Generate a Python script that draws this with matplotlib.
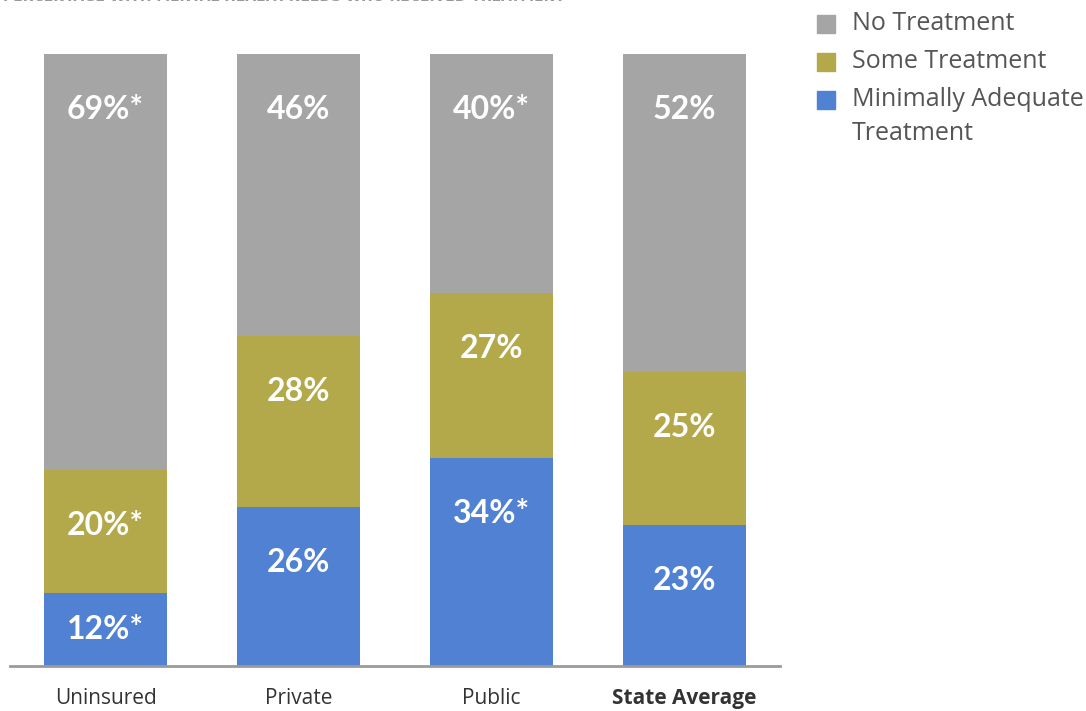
import matplotlib.pyplot as plt
from matplotlib.patches import Rectangle

# values per insurance group, bottom to top of each stack
groups = ["Uninsured", "Private", "Public", "State Average"]
minimal = [12, 26, 34, 23]
some = [20, 28, 27, 25]
none_ = [69, 46, 40, 52]
minimal_lbl = ["12%*", "26%", "34%*", "23%"]
some_lbl = ["20%*", "28%", "27%", "25%"]
none_lbl = ["69%*", "46%", "40%*", "52%"]
legend_lbl = ["No Treatment", "Some Treatment", "Minimally Adequate", "Treatment"]

c_grey = "#a5a5a5"
c_olive = "#b3a84a"
c_blue = "#5181d2"

W, H = 1086, 711
fig = plt.figure(figsize=(W / 100, H / 100), dpi=100)
ax = fig.add_axes([10 / W, 45 / H, 770 / W, 612 / H])

x = range(len(groups))
w = 0.637
b1 = minimal
b2 = [a + b for a, b in zip(minimal, some)]
ax.bar(x, minimal, w, color=c_blue, zorder=2)
ax.bar(x, some, w, bottom=b1, color=c_olive, zorder=2)
ax.bar(x, none_, w, bottom=b2, color=c_grey, zorder=2)

ax.set_xlim(-0.495, 3.495)
ax.set_ylim(0, 100)

lab_font = dict(color="white", fontsize=23, fontweight="bold", family="Lato",
                ha="center", va="center", zorder=3)
for i in x:
    segs = [(0, minimal[i], minimal_lbl[i]),
            (b1[i], some[i], some_lbl[i]),
            (b2[i], none_[i], none_lbl[i])]
    for base, h, txt in segs:
        top = min(base + h, 100)
        ax.text(i, top - min(9.1, h / 2), txt, **lab_font)

for s in ["top", "right", "left"]:
    ax.spines[s].set_visible(False)
ax.spines["bottom"].set_color("#9a9a9a")
ax.spines["bottom"].set_linewidth(2)
ax.set_yticks([])
ax.set_xticks(list(x))
ax.set_xticklabels(groups, fontsize=15, color="#333333", family="Open Sans")
ax.tick_params(axis="x", length=0, pad=16)
ax.get_xticklabels()[-1].set_fontweight("bold")

# legend drawn by hand: square sits beside the first line of each entry
for k, col in enumerate([c_grey, c_olive, c_blue]):
    yc = 24 + 38 * k
    fig.patches.append(Rectangle((817 / W, 1 - (yc + 9) / H), 18 / W, 18 / H,
                                 color=col, transform=fig.transFigure))
for txt, yc in zip(legend_lbl, [24, 62, 100, 133]):
    fig.text(852 / W, 1 - yc / H, txt, fontsize=18, color="#555555",
             family="Open Sans", va="center")

fig.text(3 / W, 1 - 1 / H, "PERCENTAGE WITH MENTAL HEALTH NEEDS WHO RECEIVED TREATMENT",
         fontsize=10, color="#999999", fontweight="bold", va="baseline")

fig.savefig("out.png", dpi=100)
